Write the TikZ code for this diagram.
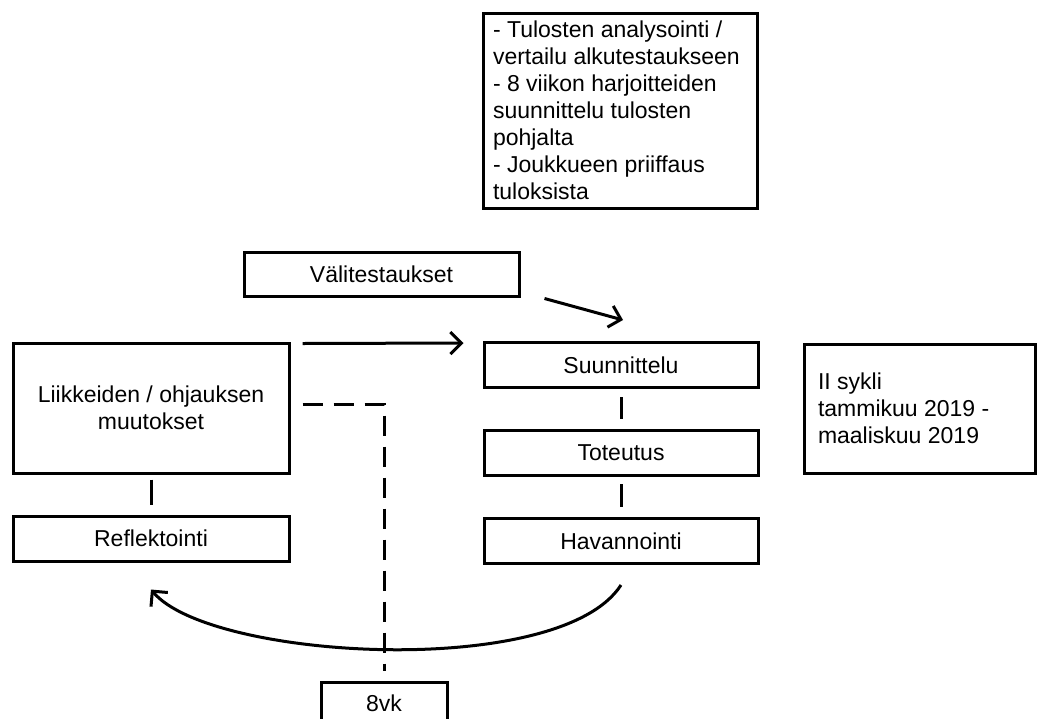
\documentclass[tikz,border=0pt]{standalone}
\usepackage{fontspec}
\setmainfont{Liberation Sans}
\usetikzlibrary{positioning,arrows.meta}

\begin{document}
\begin{tikzpicture}[
      x=1pt, y=-1pt, node distance=40pt,
      box/.style={draw, line width=3pt, align=center, inner sep=0pt,
                  font=\fontsize{23}{27}\selectfont},
      stage/.style={box, minimum width=274pt, minimum height=45pt},
      note/.style={box, align=flush left, inner xsep=10pt},
      arr/.style={-{Straight Barb[length=11pt,width=22pt]}, line width=3pt},
      link/.style={line width=3pt},
      dashline/.style={line width=3pt, dash pattern=on 20pt off 11pt}
    ]
    \useasboundingbox (0,0) rectangle (1040,718);
    % top notes
    \node[note, text width=254pt, minimum height=195pt] (tasks) at (620,110.5)
      {- Tulosten analysointi /\\ vertailu alkutestaukseen\\ - 8 viikon harjoitteiden\\
       suunnittelu tulosten\\ pohjalta\\ - Joukkueen priiffaus\\ tuloksista};
    \node[box, minimum width=275pt, minimum height=44pt] (vali) at (381.5,274) {Välitestaukset};
    % cycle, right column
    \node[stage] (suun) at (621,365) {Suunnittelu};
    \node[stage, below=of suun] (tote) {Toteutus};
    \node[stage, below=of tote] (hava) {Havannointi};
    % cycle, left column
    \node[box, minimum width=276pt, minimum height=130pt] (liik) at (151,408)
      {Liikkeiden / ohjauksen\\ muutokset};
    \node[box, minimum width=276pt, minimum height=45pt, below=of liik] (refl) {Reflektointi};
    \node[note, inner xsep=14pt, text width=203pt, minimum height=129pt] (sykli) at (919.5,408.5)
      {II sykli\\ tammikuu 2019 -\\ maaliskuu 2019};
    \node[box, minimum width=126pt, minimum height=42pt] (vk) at (384,703) {8vk};
    % links inside the columns
    \draw[link] ([yshift=-8pt]suun.south) -- ([yshift=10pt]tote.north);
    \draw[link] ([yshift=-7pt]tote.south) -- ([yshift=10pt]hava.north);
    \draw[link] ([yshift=-5pt]liik.south) -- ([yshift=10pt]refl.north);
    % arrows
    \draw[arr] ([xshift=12pt,yshift=-2pt]liik.north east) -- ([xshift=-19pt,yshift=-2pt]suun.north west);
    \draw[arr] ([xshift=24pt,yshift=-1pt]vali.south east) -- ([xshift=2pt,yshift=21pt]suun.north);
    \draw[arr] ([yshift=-20pt]hava.south) .. controls (560,680) and (210,660) .. ([yshift=-27pt]refl.south);
    \draw[dashline] ([xshift=12pt,yshift=4pt]liik.east) -| ([yshift=10pt]vk.north);
  \end{tikzpicture}
\end{document}
